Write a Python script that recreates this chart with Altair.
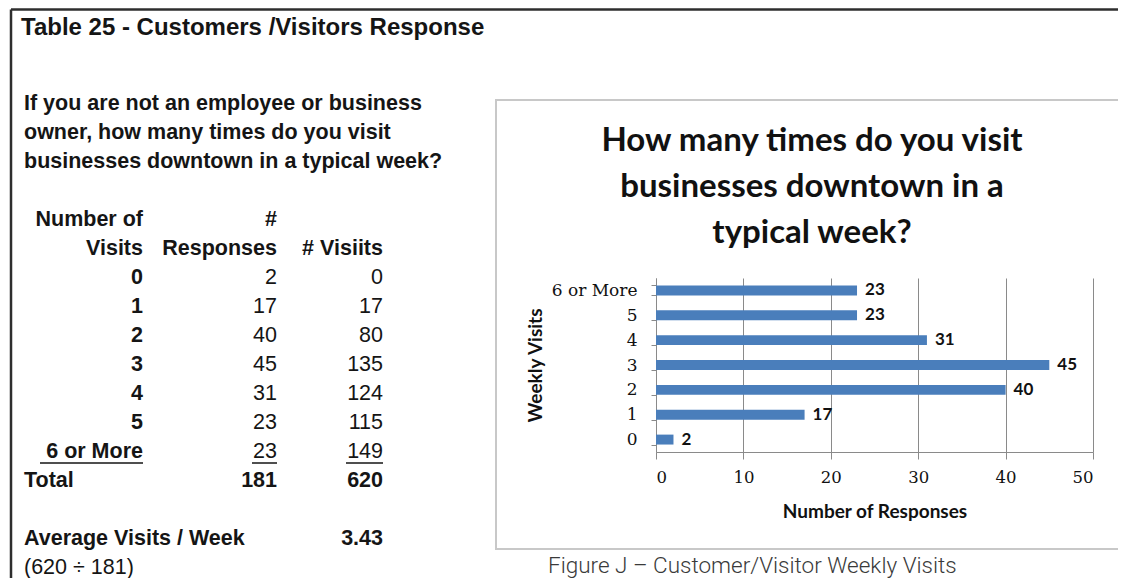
import altair as alt
import pandas as pd

# ---------------- data ----------------
visits = ["0", "1", "2", "3", "4", "5", "6 or More"]
responses = [2, 17, 40, 45, 31, 23, 23]
visit_totals = [0, 17, 80, 135, 124, 115, 149]
total_responses = 181
total_visits = 620
average_visits = "3.43"

heading = "Table 25 - Customers /Visitors Response"
question_lines = [
    "If you are not an employee or business",
    "owner, how many times do you visit",
    "businesses downtown in a typical week?",
]
chart_title = ["How many times do you visit", "businesses downtown in a", "typical week?"]
caption = "Figure J \u2013 Customer/Visitor Weekly Visits"
x_ticks = [0, 10, 20, 30, 40, 50]

# ---------------- layout constants (pixels relative to plot origin) ----------------
OX, OY = 656, 278          # plot origin on the page
PW, PH = 437, 174          # plot size

def px(x):
    return x - OX

def py(y):
    return y - OY

TXT = "#151515"
TABLE_FONT = "Liberation Sans"
TFS = 21.5

one = pd.DataFrame({"k": [0]})

# ---------------- decorations ----------------
frame_top = alt.Chart(one).mark_rule(color="#2e2e2e", strokeWidth=2.5).encode(
    x=alt.value(px(11)), x2=alt.value(px(1126)), y=alt.value(py(9.5)))
frame_left = alt.Chart(one).mark_rule(color="#2e2e2e", strokeWidth=2.5).encode(
    x=alt.value(px(11)), y=alt.value(py(9.5)), y2=alt.value(py(586)))
box = alt.Chart(one).mark_rect(fillOpacity=0, stroke="#c8c8c8", strokeWidth=2).encode(
    x=alt.value(px(496)), x2=alt.value(px(1122)), y=alt.value(py(100)), y2=alt.value(py(549)))

heading_t = alt.Chart(one).mark_text(
    text=heading, align="left", baseline="middle", font=TABLE_FONT,
    fontWeight="bold", fontSize=24, color=TXT).encode(x=alt.value(px(21)), y=alt.value(py(28)))

title_t = alt.Chart(one).mark_text(
    text=chart_title, align="center", baseline="alphabetic", lineHeight=46,
    font="Lato", fontWeight="bold", fontSize=33, color="#111111").encode(
    x=alt.value(px(812)), y=alt.value(py(151)))

caption_t = alt.Chart(one).mark_text(
    text=caption, align="left", baseline="alphabetic", font="Roboto", fontWeight=300,
    fontSize=22.5, color="#3a3a3a").encode(x=alt.value(px(548)), y=alt.value(py(573)))

# ---------------- bar chart ----------------
bar_df = pd.DataFrame({"visits": visits, "responses": responses})
order_top_down = list(reversed(visits))

x_enc = alt.X("responses:Q", scale=alt.Scale(domain=[0, 50], nice=False),
              axis=alt.Axis(values=x_ticks, title="Number of Responses", grid=True,
                            gridColor="#8a8a8a", gridWidth=1, domainColor="#8a8a8a",
                            tickColor="#8a8a8a", tickSize=7, labelFont="DejaVu Serif",
                            labelFontSize=16.5, labelColor="#111111", labelPadding=10,
                            titleFont="Lato", titleFontSize=19, titleFontWeight="bold",
                            titleColor="#111111", titleY=59, titleBaseline="middle"))
y_enc = alt.Y("visits:N", sort=order_top_down,
              scale=alt.Scale(paddingInner=0.6, paddingOuter=0.3),
              axis=alt.Axis(title="Weekly Visits", tickBand="extent", tickSize=5,
                            tickColor="#8a8a8a", domainColor="#8a8a8a", grid=False,
                            labelFont="DejaVu Serif", labelFontSize=17, labelColor="#111111",
                            labelPadding=14, titleFont="Lato", titleFontSize=19,
                            titleFontWeight="bold", titleColor="#111111",
                            titleX=px(535), titleY=PH / 2, titleBaseline="middle"))

bars = alt.Chart(bar_df).mark_bar(color="#4a7ebb").encode(x=x_enc, y=y_enc)
bar_labels = alt.Chart(bar_df).mark_text(
    align="left", baseline="middle", dx=8, font="Lato", fontWeight="bold",
    fontSize=17, color="#111111").encode(x="responses:Q", y=alt.Y("visits:N", sort=order_top_down),
                                         text="responses:Q")
bar_group = alt.layer(bars, bar_labels)

# ---------------- table ----------------
row_scale = alt.Scale(type="linear", domain=[0, 16], range=[py(104), py(568)], nice=False, zero=False)

def table_text(rows, labels, x, align, bold):
    df = pd.DataFrame({"row": rows, "label": [str(v) for v in labels]})
    return alt.Chart(df).mark_text(
        align=align, baseline="middle", font=TABLE_FONT, fontSize=TFS,
        fontWeight="bold" if bold else "normal", color=TXT).encode(
        x=alt.value(x), y=alt.Y("row:Q", scale=row_scale, axis=None), text="label:N")

data_rows = list(range(6, 13))
t_left_bold = table_text([0, 1, 2, 13, 15],
                         question_lines + ["Total", "Average Visits / Week"], px(24), "left", True)
t_left_reg = table_text([16], [f"({total_visits} \u00f7 {total_responses})"], px(24), "left", False)
t_col1 = table_text([4, 5] + data_rows, ["Number of", "Visits"] + visits, px(143), "right", True)
t_col2_b = table_text([4, 5, 13], ["#", "Responses", total_responses], px(277), "right", True)
t_col2_r = table_text(data_rows, responses, px(277), "right", False)
t_col3_b = table_text([5, 13, 15], ["# Visiits", total_visits, average_visits], px(383), "right", True)
t_col3_r = table_text(data_rows, visit_totals, px(383), "right", False)

def underline(x1, x2):
    return alt.Chart(pd.DataFrame({"row": [12]})).mark_rule(
        color=TXT, strokeWidth=1.5, yOffset=11).encode(
        x=alt.value(px(x1)), x2=alt.value(px(x2)),
        y=alt.Y("row:Q", scale=row_scale, axis=None))

table_group = alt.layer(t_left_bold, t_left_reg, t_col1, t_col2_b, t_col2_r, t_col3_b, t_col3_r,
                        underline(40, 143), underline(252, 277), underline(346, 383))

chart = alt.layer(box, frame_top, frame_left, heading_t, title_t, caption_t,
                  bar_group, table_group).resolve_scale(
    x="independent", y="independent").properties(
    width=PW, height=PH,
    autosize=alt.AutoSizeParams(type="none"),
    padding={"left": OX - 8, "top": OY - 8, "right": 1110 - (OX - 8) - PW,
             "bottom": 570 - (OY - 8) - PH},
    background="white",
).configure_view(stroke="transparent")

chart.save("out.html", embed_options={"renderer": "svg", "actions": False})
